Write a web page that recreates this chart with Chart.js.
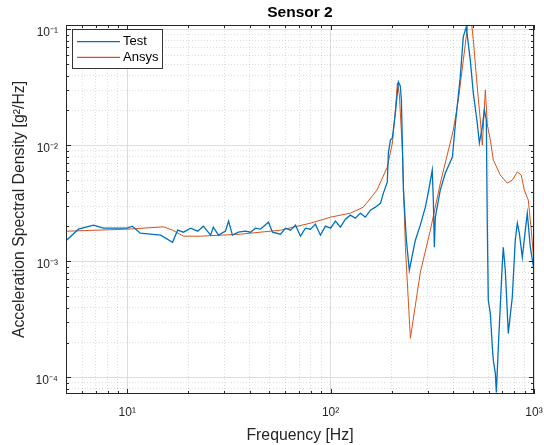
<!DOCTYPE html>
<html>
<head>
<meta charset="utf-8">
<script src="https://cdn.jsdelivr.net/npm/chart.js@4.4.1/dist/chart.umd.min.js"></script>
<style>
  html, body { margin: 0; padding: 0; background: #fff; }
</style>
</head>
<body>
<canvas id="myChart" width="544" height="445"></canvas>
<script>
// measured curves (frequency in Hz, PSD in g^2/Hz)
const testFreq = [5.03, 5.76, 6.83, 7.64, 8.86, 10.0, 10.6, 11.6, 13.0, 14.6,
    16.7, 17.7, 18.9, 20.5, 22.2, 23.7, 25.7, 26.5, 28.1, 30.4,
    31.5, 32.9, 35.2, 38.1, 40.4, 42.7, 45.2, 49.5, 51.8, 56.7,
    60.0, 63.5, 67.2, 71.1, 75.2, 79.6, 84.2, 89.1, 94.3, 100,
    105.6, 111.7, 118.2, 125, 132.4, 140, 148.2, 157, 166, 176,
    181.7, 190, 192.3, 196.8, 201.2, 203.5, 208.2, 215.4, 220, 222.8,
    228, 235.8, 243.8, 252.2, 261, 276, 292.3, 302.4, 316, 320,
    323.6, 327.3, 346, 366.5, 397, 411, 434, 449, 464.5, 486,
    503, 526, 538.7, 557, 570, 583, 589, 596, 610, 624,
    631, 645.6, 653, 667.6, 698.6, 706, 722.6, 747.6, 782, 809,
    828, 847, 876, 906.6, 927, 959, 1000];
const testPsd = [1.523e-3, 1.896e-3, 2.053e-3, 1.934e-3, 1.934e-3, 1.934e-3, 2.012e-3, 1.751e-3, 1.716e-3, 1.683e-3,
    1.464e-3, 1.859e-3, 1.786e-3, 1.934e-3, 1.822e-3, 2.012e-3, 1.683e-3, 1.973e-3, 1.683e-3, 1.822e-3,
    2.222e-3, 1.683e-3, 1.786e-3, 1.822e-3, 1.786e-3, 1.934e-3, 1.896e-3, 2.178e-3, 1.786e-3, 1.716e-3,
    1.934e-3, 1.859e-3, 2.053e-3, 1.650e-3, 1.934e-3, 1.896e-3, 2.094e-3, 1.683e-3, 2.012e-3, 1.934e-3,
    2.222e-3, 1.973e-3, 2.313e-3, 2.504e-3, 2.360e-3, 2.605e-3, 2.407e-3, 2.765e-3, 2.935e-3, 3.179e-3,
    3.878e-3, 4.825e-3, 8.589e-3, 0.01112, 0.01157, 0.01357, 0.01902, 0.03522, 0.03253, 0.02462,
    4.115e-3, 1.523e-3, 8.392e-4, 1.131e-3, 1.523e-3, 2.053e-3, 2.935e-3, 3.956e-3, 6.124e-3, 3.374e-3,
    1.326e-3, 2.407e-3, 4.115e-3, 5.770e-3, 7.929e-3, 0.01559, 0.03890, 0.08617, 0.1051, 0.05454,
    0.02830, 0.01559, 0.01047, 0.01440, 0.02019, 0.01655, 2.267e-3, 4.622e-4, 3.570e-4, 1.816e-4,
    1.402e-4, 1.083e-4, 7.425e-5, 1.816e-4, 9.645e-4, 1.326e-3, 8.392e-4, 2.399e-4, 4.906e-4, 1.523e-3,
    2.136e-3, 1.751e-3, 1.087e-3, 1.859e-3, 2.605e-3, 1.326e-3, 8.392e-4];

// simulation curve
const ansysFreq = [5.03, 10.0, 15.1, 16.7, 18.9, 22.9, 36.0, 56.7, 79.6, 100,
    125, 144.9, 169, 190, 201.2, 208.2, 213, 217.8, 225.3, 233.2,
    246.7, 261, 276.2, 309.3, 346.4, 401.2, 424.6, 449.4, 470.2, 486.4,
    503.1, 526.4, 544.6, 557.1, 576.5, 589.7, 610.1, 631, 683.1, 739.3,
    782.3, 827.8, 866, 896, 937.6, 969.8, 1000];
const ansysPsd = [1.822e-3, 1.896e-3, 1.985e-3, 1.859e-3, 1.650e-3, 1.650e-3, 1.716e-3, 1.859e-3, 2.136e-3, 2.407e-3,
    2.605e-3, 2.935e-3, 4.115e-3, 6.501e-3, 0.01047, 0.02019, 0.03453, 0.02720, 9.116e-3, 1.326e-3,
    2.172e-4, 4.184e-4, 8.064e-4, 1.859e-3, 4.730e-3, 0.01357, 0.02462, 0.05454, 0.1030, 0.1416,
    0.0812, 0.03126, 0.01655, 0.01007, 0.03004, 0.01498, 0.01112, 7.470e-3, 5.546e-3, 4.730e-3,
    5.022e-3, 5.887e-3, 5.546e-3, 4.115e-3, 3.374e-3, 1.859e-3, 9.645e-4];

const xDecades = [10, 100, 1000];
const yDecades = [1e-4, 1e-3, 1e-2, 1e-1];
const xLimits = [5, 1000];
const yLimits = [7.2e-5, 0.109];

const fontFamily = "'Liberation Sans', Arial, sans-serif";
const axisColor = '#262626';
const sup = {'-': '⁻', '0': '⁰', '1': '¹', '2': '²', '3': '³', '4': '⁴', '5': '⁵', '6': '⁶', '7': '⁷', '8': '⁸', '9': '⁹'};

function isDecade(v) {
    const l = Math.log10(v);
    return Math.abs(l - Math.round(l)) < 1e-6;
}

function inList(list, v) {
    return list.some(d => Math.abs(d - v) / d < 1e-6);
}

function powLabel(v) {
    const e = Math.round(Math.log10(v));
    return '10' + String(e).split('').map(c => sup[c]).join('');
}

// 1..9 x 10^n ticks inside the range
function logTicks(min, max) {
    const ticks = [];
    for (let e = Math.floor(Math.log10(min)); e <= Math.ceil(Math.log10(max)); e++) {
        for (let m = 1; m < 10; m++) {
            const v = m * Math.pow(10, e);
            if (v >= min * 0.9999 && v <= max * 1.0001) ticks.push({value: v});
        }
    }
    return ticks;
}

function toPoints(xs, ys) {
    return xs.map((x, i) => ({x: x, y: ys[i]}));
}

// box, inward tick marks and legend, matlab style
const frame = {
    id: 'frame',
    afterDraw(chart) {
        const {ctx, chartArea: a, scales: {x, y}} = chart;
        ctx.save();
        ctx.strokeStyle = axisColor;
        ctx.lineWidth = 1;
        ctx.beginPath();
        x.ticks.forEach(t => {
            const px = Math.round(x.getPixelForValue(t.value)) + 0.5;
            const len = isDecade(t.value) ? 5 : 3;
            ctx.moveTo(px, a.bottom); ctx.lineTo(px, a.bottom - len);
            ctx.moveTo(px, a.top); ctx.lineTo(px, a.top + len);
        });
        y.ticks.forEach(t => {
            const py = Math.round(y.getPixelForValue(t.value)) + 0.5;
            const len = isDecade(t.value) ? 5 : 3;
            ctx.moveTo(a.left, py); ctx.lineTo(a.left + len, py);
            ctx.moveTo(a.right, py); ctx.lineTo(a.right - len, py);
        });
        ctx.stroke();
        ctx.strokeRect(Math.round(a.left) + 0.5, Math.round(a.top) + 0.5,
            Math.round(a.right - a.left) - 1, Math.round(a.bottom - a.top) - 1);

        // legend
        const lx = Math.round(a.left) + 6, ly = Math.round(a.top) + 4;
        ctx.fillStyle = '#fff';
        ctx.fillRect(lx, ly, 90, 39);
        ctx.strokeStyle = '#333';
        ctx.strokeRect(lx + 0.5, ly + 0.5, 90, 39);
        ctx.font = '13px ' + fontFamily;
        ctx.textBaseline = 'middle';
        chart.data.datasets.forEach((ds, i) => {
            const yy = ly + 12.7 + i * 15.6;
            ctx.strokeStyle = ds.borderColor;
            ctx.lineWidth = 1.2;
            ctx.beginPath();
            ctx.moveTo(lx + 5, yy); ctx.lineTo(lx + 48, yy);
            ctx.stroke();
            ctx.fillStyle = '#000';
            ctx.fillText(ds.label, lx + 51, yy);
        });
        ctx.restore();
    }
};

const gridColor = c => (c.tick && isDecade(c.tick.value)) ? '#dcdcdc' : 'rgba(0,0,0,0.13)';
const gridDash = c => (c.tick && !isDecade(c.tick.value)) ? [1, 2] : [];

new Chart(document.getElementById('myChart'), {
    type: 'line',
    data: {
        datasets: [{
            label: 'Test',
            data: toPoints(testFreq, testPsd),
            borderColor: '#0072BD',
            borderWidth: 1.3,
            pointRadius: 0,
            tension: 0
        }, {
            label: 'Ansys',
            data: toPoints(ansysFreq, ansysPsd),
            borderColor: '#D95319',
            borderWidth: 1,
            pointRadius: 0,
            tension: 0
        }]
    },
    options: {
        responsive: false,
        animation: false,
        events: [],
        layout: {padding: {left: 0, right: 10, top: 0, bottom: 0}},
        plugins: {
            legend: {display: false},
            tooltip: {enabled: false},
            title: {
                display: true,
                fullSize: false,
                text: 'Sensor 2',
                color: '#000',
                font: {family: fontFamily, size: 15.5, weight: 'bold'},
                padding: {top: 3, bottom: 3.4}
            }
        },
        scales: {
            x: {
                type: 'logarithmic',
                bounds: 'data',
                min: xLimits[0],
                max: xLimits[1],
                afterBuildTicks: s => { s.ticks = logTicks(xLimits[0], xLimits[1]); },
                afterFit: s => { s.height = 51; s.paddingLeft = 0; s.paddingRight = 0; },
                grid: {color: gridColor, lineWidth: 1, drawTicks: false},
                border: {display: false, dash: gridDash},
                ticks: {
                    autoSkip: false,
                    maxRotation: 0,
                    padding: 11,
                    color: axisColor,
                    font: {family: fontFamily, size: 12},
                    callback: v => inList(xDecades, v) ? powLabel(v) : ''
                },
                title: {
                    display: true,
                    text: 'Frequency [Hz]',
                    color: axisColor,
                    font: {family: fontFamily, size: 15.8},
                    padding: {top: 0, bottom: 0}
                }
            },
            y: {
                type: 'logarithmic',
                bounds: 'data',
                min: yLimits[0],
                max: yLimits[1],
                afterBuildTicks: s => { s.ticks = logTicks(yLimits[0], yLimits[1]); },
                afterFit: s => { s.width = 66; s.paddingTop = 0; s.paddingBottom = 0; },
                grid: {color: gridColor, lineWidth: 1, drawTicks: false},
                border: {display: false, dash: gridDash},
                ticks: {
                    autoSkip: false,
                    padding: 8,
                    labelOffset: 3,
                    color: axisColor,
                    font: {family: fontFamily, size: 12},
                    callback: v => inList(yDecades, v) ? powLabel(v) : ''
                },
                title: {
                    display: true,
                    text: 'Acceleration Spectral Density [g²/Hz]',
                    color: axisColor,
                    font: {family: fontFamily, size: 15.8},
                    padding: {top: 10.5, bottom: 0}
                }
            }
        }
    },
    plugins: [frame]
});
</script>
</body>
</html>
